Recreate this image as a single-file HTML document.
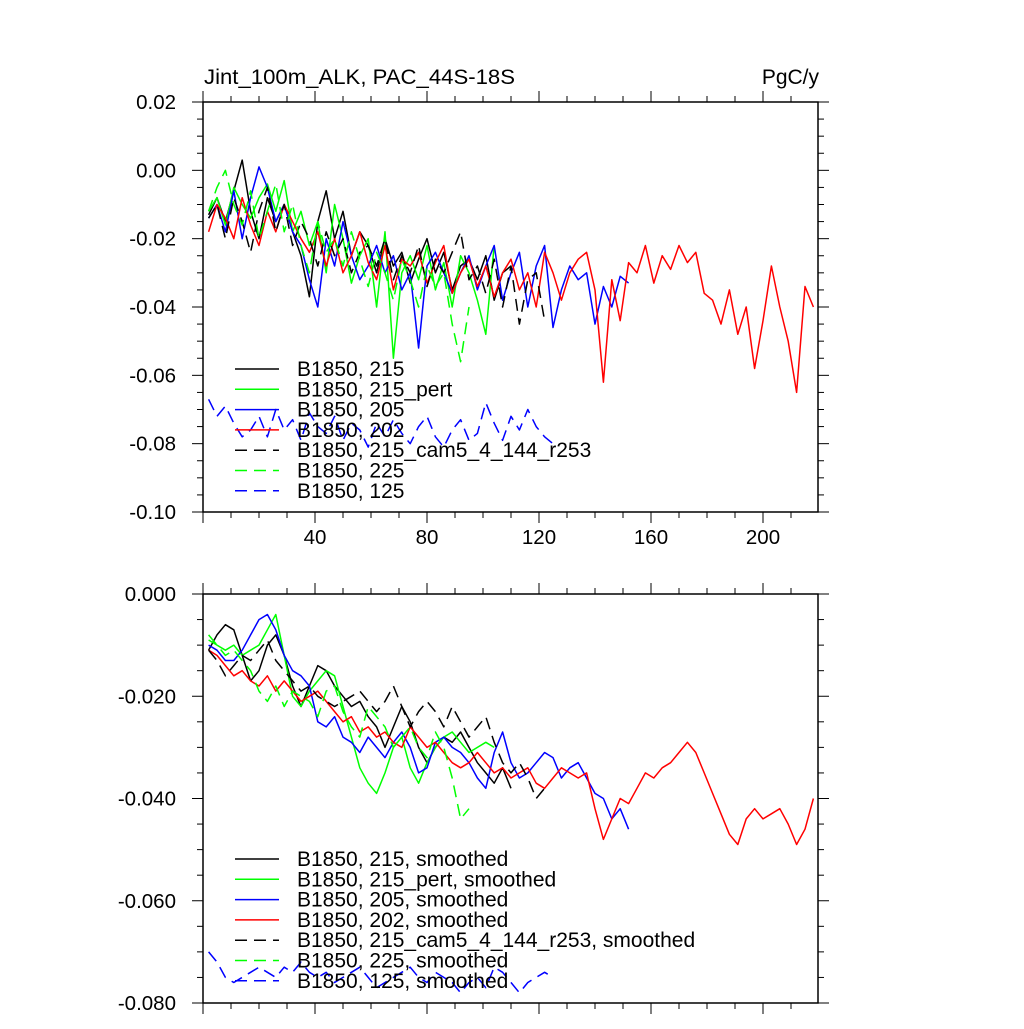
<!DOCTYPE html>
<html><head><meta charset="utf-8"><style>
body{margin:0;background:#fff}
svg text{font-family:"Liberation Sans",sans-serif;fill:#000}
</style></head><body>
<svg id="c" width="1024" height="1024" xmlns="http://www.w3.org/2000/svg"></svg>
<script>
// ---- data (top: raw) ----
const xTicks=[40,80,120,160,200];
const topYTicks=[0.02,0.00,-0.02,-0.04,-0.06,-0.08,-0.10];
const topYLabels=["0.02","0.00","-0.02","-0.04","-0.06","-0.08","-0.10"];
const botYTicks=[0,-0.02,-0.04,-0.06,-0.08];
const botYLabels=["0.000","-0.020","-0.040","-0.060","-0.080"];
const xStart=2, xStep=3;
const raw215=[-.013,-.008,-.015,-.006,.003,-.012,-.020,-.008,-.015,-.010,-.018,-.025,-.037,-.015,-.006,-.020,-.012,-.025,-.018,-.022,-.030,-.020,-.028,-.024,-.033,-.026,-.020,-.030,-.024,-.035,-.028,-.026,-.032,-.025,-.038,-.030,-.028];
const raw215pert=[-.012,-.008,-.016,-.005,-.010,-.014,-.008,-.004,-.012,-.003,-.018,-.012,-.022,-.015,-.030,-.010,-.020,-.033,-.025,-.020,-.040,-.018,-.055,-.030,-.025,-.032,-.022,-.035,-.027,-.040,-.025,-.030,-.038,-.048,-.022];
const raw205=[-.014,-.010,-.018,-.006,-.020,-.008,.001,-.005,-.015,-.010,-.018,-.022,-.032,-.040,-.020,-.028,-.015,-.025,-.032,-.028,-.022,-.030,-.025,-.035,-.030,-.052,-.028,-.024,-.030,-.036,-.030,-.025,-.035,-.028,-.022,-.038,-.030,-.024,-.040,-.028,-.022,-.046,-.035,-.028,-.032,-.030,-.045,-.034,-.040,-.031,-.033];
const raw202=[-.018,-.010,-.014,-.020,-.008,-.016,-.022,-.012,-.018,-.010,-.015,-.020,-.024,-.018,-.028,-.020,-.030,-.025,-.018,-.027,-.032,-.022,-.035,-.026,-.028,-.024,-.033,-.027,-.022,-.036,-.030,-.026,-.034,-.028,-.037,-.030,-.026,-.035,-.030,-.040,-.024,-.030,-.038,-.030,-.026,-.024,-.035,-.062,-.032,-.044,-.027,-.030,-.022,-.033,-.025,-.029,-.022,-.027,-.024,-.036,-.038,-.045,-.035,-.048,-.040,-.058,-.044,-.028,-.040,-.050,-.065,-.034,-.040];
const rawCam5=[-.014,-.010,-.020,-.008,-.015,-.024,-.012,-.005,-.018,-.010,-.022,-.015,-.020,-.028,-.018,-.025,-.020,-.030,-.024,-.022,-.028,-.020,-.032,-.025,-.030,-.022,-.034,-.026,-.030,-.024,-.018,-.032,-.028,-.036,-.026,-.040,-.028,-.045,-.032,-.030,-.044];
const raw225=[-.012,-.005,.000,-.010,-.016,-.006,-.020,-.012,-.004,-.018,-.010,-.022,-.030,-.015,-.024,-.020,-.028,-.018,-.026,-.034,-.024,-.030,-.038,-.026,-.032,-.040,-.028,-.034,-.030,-.045,-.056,-.040];
const raw125=[-.067,-.072,-.069,-.074,-.078,-.076,-.072,-.078,-.070,-.076,-.073,-.079,-.071,-.075,-.077,-.072,-.079,-.074,-.076,-.081,-.074,-.078,-.073,-.077,-.080,-.075,-.072,-.078,-.081,-.076,-.073,-.079,-.077,-.068,-.074,-.079,-.072,-.076,-.070,-.075,-.078,-.080];
// ---- data (bottom: smoothed) ----
const sm215=[-.011,-.008,-.006,-.007,-.012,-.017,-.015,-.010,-.008,-.012,-.018,-.022,-.018,-.014,-.015,-.018,-.020,-.022,-.021,-.024,-.026,-.030,-.026,-.022,-.025,-.030,-.033,-.030,-.028,-.029,-.027,-.030,-.033,-.035,-.037,-.034,-.038];
const sm215pert=[-.009,-.010,-.011,-.010,-.012,-.011,-.010,-.007,-.004,-.012,-.020,-.022,-.019,-.017,-.015,-.016,-.022,-.028,-.034,-.037,-.039,-.035,-.030,-.028,-.034,-.037,-.033,-.030,-.028,-.027,-.029,-.031,-.030,-.029,-.030];
const sm205=[-.010,-.011,-.013,-.013,-.011,-.008,-.005,-.004,-.007,-.012,-.015,-.016,-.018,-.025,-.026,-.024,-.028,-.029,-.031,-.028,-.030,-.032,-.029,-.027,-.030,-.035,-.034,-.029,-.028,-.030,-.031,-.033,-.036,-.038,-.031,-.027,-.033,-.036,-.035,-.033,-.031,-.032,-.036,-.034,-.033,-.036,-.039,-.040,-.044,-.042,-.046];
const sm202=[-.011,-.012,-.014,-.016,-.015,-.017,-.018,-.016,-.019,-.017,-.019,-.021,-.020,-.019,-.021,-.023,-.025,-.024,-.027,-.026,-.028,-.027,-.029,-.030,-.026,-.028,-.030,-.029,-.031,-.033,-.034,-.033,-.031,-.033,-.035,-.034,-.036,-.035,-.034,-.037,-.038,-.036,-.034,-.035,-.036,-.035,-.042,-.048,-.044,-.040,-.041,-.038,-.035,-.036,-.034,-.033,-.031,-.029,-.031,-.035,-.039,-.043,-.047,-.049,-.044,-.042,-.044,-.043,-.042,-.045,-.049,-.046,-.040];
const smCam5=[-.011,-.013,-.016,-.014,-.012,-.013,-.011,-.009,-.013,-.015,-.017,-.019,-.018,-.020,-.021,-.022,-.021,-.020,-.019,-.021,-.023,-.021,-.018,-.022,-.026,-.023,-.021,-.023,-.026,-.022,-.025,-.028,-.026,-.024,-.029,-.033,-.035,-.033,-.036,-.040,-.038];
const sm225=[-.008,-.010,-.012,-.011,-.013,-.015,-.019,-.021,-.018,-.022,-.019,-.020,-.021,-.024,-.019,-.018,-.023,-.026,-.028,-.022,-.024,-.026,-.030,-.028,-.026,-.030,-.032,-.027,-.030,-.036,-.044,-.042];
const sm125=[-.070,-.072,-.075,-.076,-.075,-.074,-.073,-.074,-.075,-.073,-.074,-.072,-.074,-.075,-.074,-.076,-.075,-.074,-.073,-.075,-.077,-.076,-.075,-.074,-.073,-.075,-.076,-.074,-.075,-.076,-.078,-.076,-.075,-.077,-.073,-.074,-.076,-.078,-.076,-.075,-.074,-.075];
const topLabels=["B1850, 215","B1850, 215_pert","B1850, 205","B1850, 202","B1850, 215_cam5_4_144_r253","B1850, 225","B1850, 125"];
const botLabels=["B1850, 215, smoothed","B1850, 215_pert, smoothed","B1850, 205, smoothed","B1850, 202, smoothed","B1850, 215_cam5_4_144_r253, smoothed","B1850, 225, smoothed","B1850, 125, smoothed"];

const NS="http://www.w3.org/2000/svg";
const svg=document.getElementById('c');
function mk(t,a,p){const e=document.createElementNS(NS,t);for(const k in a)e.setAttribute(k,a[k]);(p||svg).appendChild(e);return e;}
const L=203,R=818,XMAX=(818-203)/2.8;
const sx=x=>L+x/XMAX*(R-L);
const styles=[["#000",""],["#00ff00",""],["#0000ff",""],["#ff0000",""],["#000","12,7"],["#00ff00","12,7"],["#0000ff","12,7"]];

function panel(name,top,bot,ymax,ymin,yT,yL,series,labels,legY){
  const g=mk('g',{});
  
  
  const sy=v=>top+(ymax-v)/(ymax-ymin)*(bot-top);
  series.forEach((s,i)=>{
    const pts=s.map((v,j)=>sx(xStart+j*xStep).toFixed(1)+','+sy(v).toFixed(1)).join(' ');
    const pl=mk('polyline',{points:pts,fill:'none',stroke:styles[i][0],'stroke-width':1.5,'stroke-dasharray':styles[i][1],'stroke-linejoin':'round'},g);
    
    
  });
  const fr=mk('rect',{x:L,y:top,width:R-L,height:bot-top,fill:'none',stroke:'#000','stroke-width':1.5},g);
  
  
  for(let x=0;x<=XMAX;x+=10){
    const maj=x%40===0;const len=maj?11:6;const px=sx(x);
    mk('line',{x1:px,x2:px,y1:bot,y2:bot+len,stroke:'#000','stroke-width':1},g);
    mk('line',{x1:px,x2:px,y1:top,y2:top-len,stroke:'#000','stroke-width':1},g);
  }
  const n=Math.round((ymax-ymin)/0.005);
  for(let k=0;k<=n;k++){
    const v=ymax-k*0.005;const py=sy(v);const maj=k%4===0;const len=maj?11:6;
    mk('line',{x1:L,x2:L-len,y1:py,y2:py,stroke:'#000','stroke-width':1},g);
    mk('line',{x1:R,x2:R+len,y1:py,y2:py,stroke:'#000','stroke-width':1},g);
  }
  yT.forEach((v,i)=>{
    const t=mk('text',{x:176,y:sy(v)+7,'text-anchor':'end','font-size':20.5},g);t.textContent=yL[i];
    
    
  });
  labels.forEach((lab,i)=>{
    const y=legY+i*20.3;
    mk('line',{x1:235,x2:279,y1:y,y2:y,stroke:styles[i][0],'stroke-width':1.5,'stroke-dasharray':styles[i][1]},g);
    const t=mk('text',{x:297,y:y+7,'font-size':21,'textLength':null},g);t.removeAttribute('textLength');t.textContent=lab;
    
    
  });
  return sy;
}
panel('top-panel',102,512,0.02,-0.10,topYTicks,topYLabels,[raw215,raw215pert,raw205,raw202,rawCam5,raw225,raw125],topLabels,369);
panel('bottom-panel',594,1003,0,-0.08,botYTicks,botYLabels,[sm215,sm215pert,sm205,sm202,smCam5,sm225,sm125],botLabels,859);
xTicks.forEach(v=>{
  const t=mk('text',{x:sx(v),y:544,'text-anchor':'middle','font-size':20.5});t.textContent=v;
  
  
});
const t1=mk('text',{x:204,y:84,'font-size':21,'textLength':311,'lengthAdjust':'spacingAndGlyphs'});t1.textContent="Jint_100m_ALK, PAC_44S-18S";


const t2=mk('text',{x:819,y:84,'font-size':21,'text-anchor':'end'});t2.textContent="PgC/y";


</script>
</body></html>
